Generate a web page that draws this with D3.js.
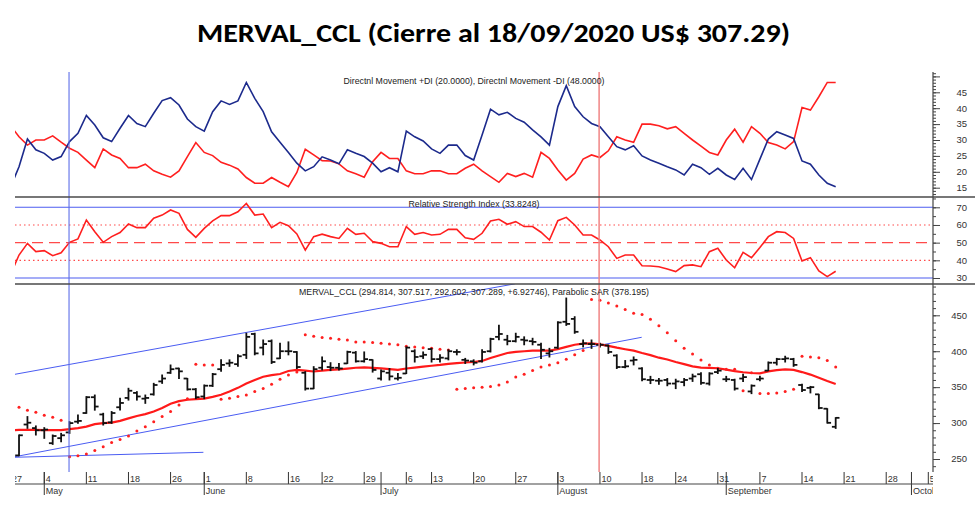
<!DOCTYPE html>
<html><head><meta charset="utf-8">
<script src="https://cdn.jsdelivr.net/npm/d3@7"></script>
<style>body{margin:0;background:#fff}svg{display:block}</style>
</head><body><svg id="c" width="980" height="509"></svg>
<script>
// ---------------- DATA ----------------
const tradingDates = [
"2020-04-27","2020-04-28","2020-04-29","2020-04-30",
"2020-05-04","2020-05-05","2020-05-06","2020-05-07","2020-05-08",
"2020-05-11","2020-05-12","2020-05-13","2020-05-14","2020-05-15",
"2020-05-18","2020-05-19","2020-05-20","2020-05-21","2020-05-22",
"2020-05-26","2020-05-27","2020-05-28","2020-05-29",
"2020-06-01","2020-06-02","2020-06-03","2020-06-04","2020-06-05",
"2020-06-08","2020-06-09","2020-06-10","2020-06-11","2020-06-12",
"2020-06-16","2020-06-17","2020-06-18","2020-06-19",
"2020-06-22","2020-06-23","2020-06-24","2020-06-25","2020-06-26",
"2020-06-29","2020-06-30",
"2020-07-01","2020-07-02","2020-07-03",
"2020-07-06","2020-07-07","2020-07-08",
"2020-07-13","2020-07-14","2020-07-15","2020-07-16","2020-07-17",
"2020-07-20","2020-07-21","2020-07-22","2020-07-23","2020-07-24",
"2020-07-27","2020-07-28","2020-07-29","2020-07-30","2020-07-31",
"2020-08-03","2020-08-04","2020-08-05","2020-08-06","2020-08-07",
"2020-08-10","2020-08-11","2020-08-12","2020-08-13","2020-08-14",
"2020-08-18","2020-08-19","2020-08-20","2020-08-21",
"2020-08-24","2020-08-25","2020-08-26","2020-08-27","2020-08-28",
"2020-08-31",
"2020-09-01","2020-09-02","2020-09-03","2020-09-04",
"2020-09-07","2020-09-08","2020-09-09","2020-09-10","2020-09-11",
"2020-09-14","2020-09-15","2020-09-16","2020-09-17","2020-09-18",
"2020-09-21","2020-09-22","2020-09-23","2020-09-24","2020-09-25",
"2020-09-28","2020-09-29","2020-09-30",
"2020-10-01","2020-10-02","2020-10-05"];

const openP = [258,255,298,293,290,272,279,287,302,314,336,312,301,322,335,342,334,340,358,370,
376,362,347,337,352,375,383,382,395,424,405,414,390,400,399,370,348,377,378,377,
383,398,386,388,362,370,362,369,400,393,403,389,390,399,388,386,386,400,420,416,
414,416,414,409,397,405,441,445,410,410,409,408,394,378,387,376,360,359,360,355,
357,362,368,355,371,361,360,362,344,361,373,384,389,389,353,349,340,320,294.814];
const highP = [262,283.4,309,296,293.6,283.4,285.7,302,311.3,336.8,339,313.6,316,334.4,348.4,343.7,339,355.3,366.9,380.8,
376.2,362,348,353,369,388,388,395,425,425,415.6,415.6,411,413,399.4,371.6,378.5,392,384,383,
400,399.5,399,388,374,376,369,406,402,399,404,395,402,402,390,388,402,418,436,422,
425,420,418,411,404,441,474,448,415.6,415.6,411,408.6,395,387,392,377,365,362,362,361,
362,368,370,370,376,365,361,368,353,365,385,390,393,390,354,351,340,320,307.517];
const lowP = [253,254.6,292.7,283.4,278.8,270.4,274,285.7,299.6,313.6,318,297.3,299.6,318.2,332,332,327.5,339,355.3,369.2,
362,346,334,334,351,372,379,379,390,395,395,383,390,395,376,346,348,374,373,374,
383,385,385,371,360,360,360,369,385,390,385,385,388,395,383,381,385,399,416,409,
413,409,409,390,392,404,436,425,406,404,406,397,376,377,381,359,355,354,352,348,
352,358,354,353,369,358,346,358,341,359,373,381,385,379,344,342,320,300,292.602];
const closeP = [256,283,300.5,290,291,282,283,300,303,336,323,300,314,328,345,337,335,353,362,375,
372,347,336,352,368,381,384,393,420,397,410,385,400,400,378,348,375,386,377,376,
399,386,389,374,372,365,363,405,392,395,389,391,400,399,387,384,399,417,424,414,
420,415,413,402,400,440,438,427,411,410,409,399,378,379,388,361,360,359,355,358,
360,365,356,369,373,361,348,364,352,362,384,389,390,381,346,350,321,300.36,307.289];

const smaP = [290,290.4,290.4,290.4,290.3,290.2,290.3,291.5,293,295,298.5,300,300.6,303,306.5,309.9,312.5,316,321,327,
330.5,332.5,333.2,334,336.5,339.5,344,349,355,360,364.5,366.8,368.3,372.5,373.9,373,371.8,373,374,374.8,
375.8,377,377.6,376.8,376,375,374,376,377.3,378.6,379.8,381,382.5,383.5,384.3,385,386.5,390.5,394,397.5,
399,400,400.8,400.8,400.8,403,406,409,410.5,410.8,409.6,407.5,405,402.8,400.8,397.5,394.5,391,388.5,385,
382,379,377.3,376.8,376.3,374.5,372.3,370.7,369.7,369.2,372,373.8,374.7,374,371,367.5,363,358.5,354.4];

const sarP = [325,322,318,315,311,308,304,253,254.6,257,262,267,273,277,282,289,295,302,309,316,
325,334,382,381,381,333,334.5,337,339,344,348,354,361,367,371,423,421,419,418,416.6,
415.6,413,413,412,411,410,409,407,406,405,404,402.6,401.7,347,348,349,350,351,353,357,
364,368,373,378,381,384,389,395,401,472,471,467,463,458,453,451,444.4,435.6,425.8,414.7,
404,396,387.8,380.8,376.2,375,375,345,370,341,341,342,344,347,393,392,391,387,378.2];

const plusDI = [15.2,21.6,30.3,26.9,25.8,23.7,24.8,29.5,32.1,37.7,34.7,30.7,29.5,33.7,37.7,35.2,34.2,38.4,42.4,43.3,
41,36.6,34.2,32.8,38.9,42.3,41.2,42.3,48.1,43.1,38.9,32.6,29.3,26.1,22.7,20.3,21.6,24.7,23.7,22.5,
26.9,25.8,24.8,22.7,20.0,21.3,20.0,32.8,31,29.7,27.2,25.8,28.4,28.4,25.1,23.7,31.6,39.7,37.9,38.7,
36.8,35.6,33.2,31.0,28.4,40.5,47.1,40.5,37.3,35.2,34.2,31,27.9,26.9,28.2,25,23.7,22.7,21.6,20.6,
19,22.4,21.3,19.2,21.1,19,17.6,21.1,17.6,24,30.3,32.6,31.6,30.5,23.4,22.4,19,16.4,15.3];
const minusDI = [34.5,31,28.4,30,30,31.3,29.3,27.4,26.1,23.7,21.3,27.2,25.3,24.2,21.3,21.3,22.4,20.3,19.2,18.3,
20.3,24.8,29.2,26.1,25.1,23,22.1,20.9,18.2,16.4,16.4,18.2,16.7,15.3,19.8,27.1,25.3,23.5,23.4,22.5,
20.3,19.4,18.3,23.2,26.1,24.2,24.2,20.3,19.4,19.4,20.3,20.3,19.4,19.4,21.1,22.4,20.3,18.5,16.7,19.5,
18.5,19.5,18.3,26.1,24.2,20.6,17.4,19.5,24,25.3,24.5,26.6,31,30,29.3,35,35,34.5,33.5,34.2,
32.1,30,28.1,26.1,25.3,30,33.4,29.3,34.2,32.1,29.2,28.4,27.2,29.5,40.2,39.4,43.6,48.1,48.1];

const rsiV = [32,43,49.6,44.9,45.5,42.6,44.3,50.2,52.1,62.8,56.2,50.2,53.4,55.7,60.6,58.5,58.5,63.8,65.6,68.5,
66.6,57.5,53,58.1,62.3,65.3,65.3,67.5,72.2,65.6,66.2,58.5,61.5,59.6,54.9,45.8,53.4,54.8,53.4,52.4,
58.1,54.7,55.3,50.6,49.6,47.7,47.7,59.1,54.7,55.7,54.3,54.7,57.5,57.5,52.8,51.9,55.3,62.2,63.2,60.4,
61.9,59.1,59.1,55.9,51.5,62.4,64.3,60,54.3,54.3,51.5,47.7,41.1,43,43,36.9,36.8,36.4,35.1,33.6,
37,37.4,36.4,44.9,46.8,40.2,35.8,44.5,41.5,47.2,53.4,56.2,55.7,52.4,39.6,41.5,34,30.8,33.8];

// hand-drawn annotation lines in (day index, price) space
const channelUpper = [[0.52,367.9],[59.9,493.8]];
const channelLower = [[0.52,253.2],[74.96,419.4]];
const baseLine = [[0.52,252.4],[22.9,259.3]];
const markerBlueIdx = 6.94;
const markerRedIdx = 69.9;

const diTickLabels = [15,20,25,30,35,40,45];
const rsiTickLabels = [30,40,50,60,70];
const priceTickLabels = [250,300,350,400,450];
const rsiBands = [70,60,50,40,30];

const titleText = "MERVAL_CCL (Cierre al 18/09/2020 US$ 307.29)";
const diLabel = "Directnl Movement +DI (20.0000), Directnl Movement -DI (48.0000)";
const rsiLabel = "Relative Strength Index (33.8248)";
const priceLabel = "MERVAL_CCL (294.814, 307.517, 292.602, 307.289, +6.92746), Parabolic SAR (378.195)";

// ---------------- DRAW ----------------
const svg = d3.select("#c");
const L = 15, R = 933, CX = (L + R) / 2;
const P1 = [72, 197], P2 = [197, 284], P3 = [284, 472];
const parse = d3.timeParse("%Y-%m-%d");
const dates = tradingDates.map(parse);
const xs = d3.scaleLinear().domain([0, dates.length - 1]).range([10.6, 928.3]);
const yDI = d3.scaleLinear().domain([15, 45]).range([187.7, 92.3]);
const yRSI = d3.scaleLinear().domain([30, 70]).range([278, 207.3]);
const yP = d3.scaleLinear().domain([250, 450]).range([459, 315.3]);
const FONT = "'Liberation Sans', Arial, sans-serif";

const defs = svg.append("defs");
function clip(id, y0, y1) {
  defs.append("clipPath").attr("id", id).append("rect")
    .attr("x", L).attr("y", y0).attr("width", R - L).attr("height", y1 - y0);
}
clip("c1", P1[0], P1[1]); clip("c2", P2[0], P2[1]); clip("c3", P3[0], P3[1]);
clip("cAll", P1[0], P3[1]);
defs.append("clipPath").attr("id", "cx").append("rect")
  .attr("x", L).attr("y", 460).attr("width", R - L).attr("height", 49);

// title
svg.append("text").attr("x", 493.5).attr("y", 42).attr("text-anchor", "middle")
  .attr("font-family", "Carlito, Calibri, Lato, 'Open Sans', sans-serif")
  .attr("font-weight", "bold").attr("font-size", 26).attr("fill", "#000")
  .attr("textLength", 593).attr("lengthAdjust", "spacingAndGlyphs")
  .text(titleText);

// ---- panel 1 : DI ----
const g1 = svg.append("g").attr("clip-path", "url(#c1)");
const lineDI = d3.line().x((d, i) => xs(i)).y(d => yDI(d));
g1.append("path").datum(minusDI).attr("d", lineDI).attr("fill", "none")
  .attr("stroke", "#ff1f1f").attr("stroke-width", 1.6);
g1.append("path").datum(plusDI).attr("d", lineDI).attr("fill", "none")
  .attr("stroke", "#1c2a8c").attr("stroke-width", 1.6);

// ---- panel 2 : RSI ----
const g2 = svg.append("g").attr("clip-path", "url(#c2)");
rsiBands.forEach(v => {
  const ln = g2.append("line").attr("x1", L).attr("x2", R)
    .attr("y1", yRSI(v)).attr("y2", yRSI(v));
  if (v === 70 || v === 30) ln.attr("stroke", "#4d5df0").attr("stroke-width", 1.1);
  else if (v === 50) ln.attr("stroke", "#ff4a4a").attr("stroke-width", 1.1).attr("stroke-dasharray", "11,6");
  else ln.attr("stroke", "#ff4a4a").attr("stroke-width", 1.1).attr("stroke-dasharray", "1.5,3");
});
g2.append("path").datum(rsiV)
  .attr("d", d3.line().x((d, i) => xs(i)).y(d => yRSI(d)))
  .attr("fill", "none").attr("stroke", "#ff1f1f").attr("stroke-width", 1.6);

// ---- panel 3 : price ----
const g3 = svg.append("g").attr("clip-path", "url(#c3)");
const segLine = d3.line().x(d => xs(d[0])).y(d => yP(d[1]));
[channelUpper, channelLower, baseLine].forEach(s => {
  g3.append("path").datum(s).attr("d", segLine).attr("fill", "none")
    .attr("stroke", "#4a5cf2").attr("stroke-width", 1);
});
g3.append("path").datum(smaP)
  .attr("d", d3.line().x((d, i) => xs(i)).y(d => yP(d)))
  .attr("fill", "none").attr("stroke", "#ff1a1a").attr("stroke-width", 2.2);
g3.selectAll("circle.sar").data(sarP).join("circle").attr("class", "sar")
  .attr("cx", (d, i) => xs(i)).attr("cy", d => yP(d)).attr("r", 1.5).attr("fill", "#ff2020");
const bars = g3.selectAll("g.bar").data(closeP.map((c, i) => ({i, o: openP[i], h: highP[i], l: lowP[i], c})))
  .join("g").attr("class", "bar").attr("stroke", "#111").attr("stroke-width", 1.8);
bars.append("line").attr("x1", d => xs(d.i)).attr("x2", d => xs(d.i))
  .attr("y1", d => yP(d.h) - 0.5).attr("y2", d => yP(d.l) + 0.5);
bars.append("line").attr("x1", d => xs(d.i) - 3.8).attr("x2", d => xs(d.i))
  .attr("y1", d => yP(d.o)).attr("y2", d => yP(d.o));
bars.append("line").attr("x1", d => xs(d.i)).attr("x2", d => xs(d.i) + 3.8)
  .attr("y1", d => yP(d.c)).attr("y2", d => yP(d.c));

// vertical marker lines
const gm = svg.append("g").attr("clip-path", "url(#cAll)");
gm.append("line").attr("x1", xs(markerBlueIdx)).attr("x2", xs(markerBlueIdx))
  .attr("y1", P1[0]).attr("y2", P3[1]).attr("stroke", "#5d6ee8").attr("stroke-width", 1.1);
gm.append("line").attr("x1", xs(markerRedIdx)).attr("x2", xs(markerRedIdx))
  .attr("y1", P1[0]).attr("y2", P3[1]).attr("stroke", "#f08585").attr("stroke-width", 1.5);

// panel labels
function label(txt, y, w) {
  svg.append("text").attr("x", CX).attr("y", y).attr("text-anchor", "middle")
    .attr("font-family", FONT).attr("font-size", 8.8).attr("fill", "#222")
    .attr("textLength", w).attr("lengthAdjust", "spacingAndGlyphs").text(txt);
}
label(diLabel, 83.5, 261);
label(rsiLabel, 207, 131);
label(priceLabel, 294.5, 350);

// separators
[P1[1], P2[1]].forEach(y => {
  svg.append("line").attr("x1", L).attr("x2", 975).attr("y1", y).attr("y2", y)
    .attr("stroke", "#4a4a4a").attr("stroke-width", 1.5);
});

// right axis
svg.append("line").attr("x1", R).attr("x2", R).attr("y1", P1[0]).attr("y2", P3[1])
  .attr("stroke", "#444").attr("stroke-width", 1.2);
function rightAxis(scale, minor, major, labels, y0, y1) {
  const inR = v => scale(v) >= y0 + 1 && scale(v) <= y1 - 1;
  const mk = (vals, size) => {
    const g = svg.append("g").attr("transform", `translate(${R},0)`)
      .call(d3.axisRight(scale).tickValues(vals.filter(inR)).tickSize(size).tickFormat(""));
    g.select(".domain").remove();
    g.selectAll("line").attr("stroke", "#444");
  };
  mk(minor, 3); mk(major, 7);
  svg.append("g").selectAll("text").data(labels).join("text")
    .attr("x", 967).attr("y", d => scale(d)).attr("dy", "0.35em")
    .attr("text-anchor", "end").attr("font-family", FONT).attr("font-size", 9.5)
    .attr("fill", "#333").text(d => d);
}
rightAxis(yDI, d3.range(11, 53, 1), d3.range(10, 55, 5), diTickLabels, P1[0], P1[1]);
rightAxis(yRSI, d3.range(25, 80, 5), d3.range(30, 80, 10), rsiTickLabels, P2[0], P2[1]);
rightAxis(yP, d3.range(230, 500, 10), d3.range(250, 500, 50), priceTickLabels, P3[0], P3[1]);

// bottom time axis
const gx = svg.append("g").attr("clip-path", "url(#cx)");
svg.append("line").attr("x1", L).attr("x2", R).attr("y1", 484).attr("y2", 484)
  .attr("stroke", "#444").attr("stroke-width", 1.2);
const monFmt = d3.timeFormat("%B");
dates.forEach((d, i) => {
  const prev = i > 0 ? dates[i - 1] : null;
  const weekStart = !prev || +d3.timeMonday.floor(d) !== +d3.timeMonday.floor(prev);
  const monthStart = prev && d.getMonth() !== prev.getMonth();
  const x = xs(i);
  if (weekStart) {
    gx.append("line").attr("x1", x).attr("x2", x).attr("y1", 472).attr("y2", 484)
      .attr("stroke", "#333").attr("stroke-width", 1);
    gx.append("text").attr("x", x + 1.5).attr("y", 482).attr("font-family", FONT)
      .attr("font-size", 9).attr("fill", "#333").text(d.getDate());
  }
  if (monthStart) {
    gx.append("line").attr("x1", x).attr("x2", x).attr("y1", 472).attr("y2", 495)
      .attr("stroke", "#333").attr("stroke-width", 1);
    gx.append("text").attr("x", x + 1.5).attr("y", 493.5).attr("font-family", FONT)
      .attr("font-size", 9).attr("fill", "#333").text(monFmt(d));
  }
});
</script></body></html>
